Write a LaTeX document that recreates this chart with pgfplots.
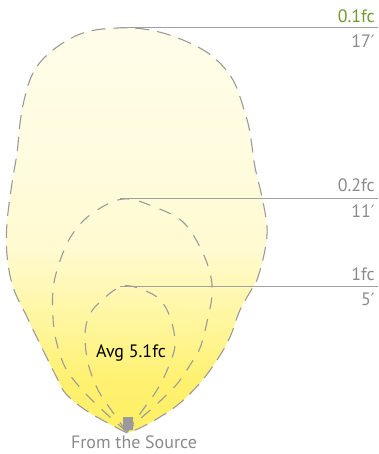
\documentclass[border=0pt]{standalone}
\usepackage{pgfplots}
\pgfplotsset{compat=1.18}
\usepackage{fontspec}
\setmainfont{PT Sans}
\newfontfamily\djv{DejaVu Sans}
\definecolor{dashgray}{HTML}{9A9A9A}
\definecolor{linegray}{HTML}{A0A0A0}
\definecolor{txtgray}{HTML}{8A8A8A}
\definecolor{fcgreen}{HTML}{6E9A2E}
\definecolor{g0}{HTML}{FFEF64}
\definecolor{g1}{HTML}{FFF170}
\definecolor{g2}{HTML}{FFF598}
\definecolor{g3}{HTML}{FFFAD0}
\definecolor{g4}{HTML}{FFFCE0}
\definecolor{g5}{HTML}{FFFDE9}
\pgfdeclareverticalshading{glow}{100bp}{color(0bp)=(g0); color(25bp)=(g0); color(31.5bp)=(g1); color(37.7bp)=(g2); color(47.6bp)=(g3); color(59.9bp)=(g4); color(75bp)=(g5); color(100bp)=(g5)}
\newcommand{\lbl}{\fontsize{18}{20}\selectfont}
\newcommand{\prm}{{\djv\fontsize{17}{18}\selectfont ′}}
\begin{document}
\begin{tikzpicture}
\begin{axis}[
  scale only axis, width=378bp, height=454bp,
  xmin=0, xmax=378, ymin=0, ymax=454, y dir=reverse,
  hide axis, clip=false,
]
\path (axis cs:0,0) rectangle (axis cs:378,454);
% outer contour (0.1fc)
\addplot[draw=none, smooth, tension=0.6, shading=glow] coordinates {
(127,433) (90,413) (67,395) (58,380) (43,350) (27,317) (13,287) (7,255) (7,223) (12,183) (17,153) (22,110) (33,73) (53,50) (83,33) (117,28) (150,30) (183,40) (212,56) (233,80) (245,113) (250,133) (255,167) (262,197) (267,227) (265,250) (258,277) (253,287) (240,310) (230,337) (217,360) (200,383) (180,403) (160,417) (140,428) (127,433)};
\addplot[dashgray, line width=1.1bp, dash pattern=on 14bp off 8bp, smooth, tension=0.6] coordinates {
(127,433) (90,413) (67,395) (58,380) (43,350) (27,317) (13,287) (7,255) (7,223) (12,183) (17,153) (22,110) (33,73) (53,50) (83,33) (117,28) (150,30) (183,40) (212,56) (233,80) (245,113) (250,133) (255,167) (262,197) (267,227) (265,250) (258,277) (253,287) (240,310) (230,337) (217,360) (200,383) (180,403) (160,417) (140,428) (127,433)};
% middle contour (0.2fc)
\addplot[dashgray, line width=1.1bp, dash pattern=on 12bp off 10bp, smooth, tension=0.6] coordinates {
(127,432) (98,406) (77,384) (64,365) (56,340) (53,318) (53,290) (58,267) (70,238) (90,215) (123,199) (157,208) (183,222) (200,247) (210,273) (212,295) (207,322) (200,348) (190,365) (177,384) (157,404) (140,419) (127,432)};
% inner contour (1fc)
\addplot[dashgray, line width=1.1bp, dash pattern=on 12bp off 10bp, smooth, tension=0.6] coordinates {
(127,432) (114,414) (98,390) (88,363) (85,335) (89,316) (100,302) (123,286) (148,292) (162,302) (171,320) (175,345) (168,368) (157,390) (142,411) (127,432)};
% leader lines
\addplot[linegray, line width=1bp] coordinates {(120,28) (378,28)};
\addplot[linegray, line width=1bp] coordinates {(120,198) (378,198)};
\addplot[linegray, line width=1bp] coordinates {(120,286) (378,286)};
% source
\addplot[draw=none, fill=dashgray] coordinates {(123,417) (133,417) (133,430) (123,430) (123,417)};
% labels
\node[anchor=east, text=fcgreen, font=\lbl, inner sep=0pt] at (axis cs:375,16) {0.1fc};
\node[anchor=east, text=txtgray, font=\lbl, inner sep=0pt] at (axis cs:375,41) {17\prm};
\node[anchor=east, text=txtgray, font=\lbl, inner sep=0pt] at (axis cs:375,185) {0.2fc};
\node[anchor=east, text=txtgray, font=\lbl, inner sep=0pt] at (axis cs:375,211) {11\prm};
\node[anchor=east, text=txtgray, font=\lbl, inner sep=0pt] at (axis cs:375,274) {1fc};
\node[anchor=east, text=txtgray, font=\lbl, inner sep=0pt] at (axis cs:375,299) {5\prm};
\node[text=black, font=\lbl, inner sep=0pt] at (axis cs:131,353) {Avg 5.1fc};
\node[text=txtgray, font=\lbl, inner sep=0pt] at (axis cs:134,442) {From the Source};
\end{axis}
\end{tikzpicture}
\end{document}
